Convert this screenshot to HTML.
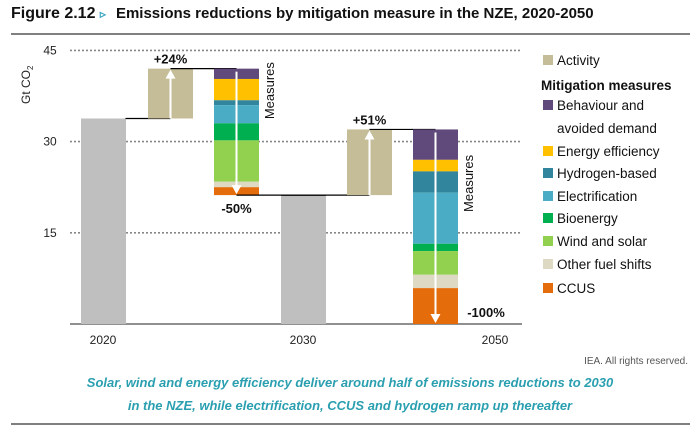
<!DOCTYPE html>
<html><head><meta charset="utf-8"><style>
body{margin:0;background:#fff;width:699px;height:433px;overflow:hidden;font-family:"Liberation Sans",sans-serif}
svg text{font-family:"Liberation Sans",sans-serif}
</style></head><body>
<svg id="chart" width="699" height="433" xmlns="http://www.w3.org/2000/svg">
<text x="11" y="18" font-size="16" font-weight="bold" fill="#111">Figure 2.12 <tspan fill="#3aa6c4" font-size="12">▹</tspan><tspan dx="10" font-size="15">Emissions reductions by mitigation measure in the NZE, 2020-2050</tspan></text>
<rect x="11" y="33" width="679" height="2" fill="#808080"/>
<text transform="translate(30,104) rotate(-90)" font-size="12" fill="#222">Gt CO<tspan font-size="8" dy="3">2</tspan></text>
<g id="grid"></g><g id="bars"></g><g id="legend"></g>
<text x="688" y="364" font-size="10" text-anchor="end" fill="#555">IEA. All rights reserved.</text>
<text x="350" y="387" font-size="13" font-weight="bold" font-style="italic" text-anchor="middle" fill="#2a9fb0">Solar, wind and energy efficiency deliver around half of emissions reductions to 2030</text>
<text x="350" y="410" font-size="13" font-weight="bold" font-style="italic" text-anchor="middle" fill="#2a9fb0">in the NZE, while electrification, CCUS and hydrogen ramp up thereafter</text>
<rect x="11" y="423" width="679" height="2" fill="#808080"/>
</svg>
<script>
const years=["2020","2030","2050"];
const totals=[33.8,21.2,0];
const activity=[8.2,10.8];
const measureNames=["Behaviour and avoided demand","Energy efficiency","Hydrogen-based","Electrification","Bioenergy","Wind and solar","Other fuel shifts","CCUS"];
const measures2030=[1.7,3.5,0.8,3.0,2.8,6.8,0.9,1.3];
const measures2050=[5.0,1.9,3.5,8.4,1.2,3.9,2.2,5.9];
const growthLabels=["+24%","+51%"];
const reductionLabels=["-50%","-100%"];
const yTicks=[15,30,45];
const colors=["#604a7b","#ffc000","#31859c","#4bacc6","#00b050","#92d050","#ddd9c3","#e46c0a"];
const NS="http://www.w3.org/2000/svg";
const y=v=>324-v*6.08;
const bw=45;
function mk(tag,attrs,parent,txt){const e=document.createElementNS(NS,tag);for(const k in attrs)e.setAttribute(k,attrs[k]);if(txt!==undefined)e.textContent=txt;parent.appendChild(e);return e;}
const grid=document.getElementById('grid'),bars=document.getElementById('bars'),leg=document.getElementById('legend');
yTicks.forEach(t=>{
 const l=mk('line',{x1:70,x2:522,y1:y(t),y2:y(t),stroke:'#888','stroke-width':1.6,'stroke-dasharray':'2,2'},grid);
 
 
 const tx=mk('text',{x:50,y:y(t)+4,'font-size':12,'text-anchor':'middle',fill:'#222'},grid,t);
 
 
});
const ax=mk('line',{x1:70,x2:522,y1:324,y2:324,stroke:'#222','stroke-width':1},grid);


const groupX=[81,281,413];
const actX=[148,347];
const measX=[214,413];
[0,1].forEach(i=>{
 const r=mk('rect',{x:groupX[i],y:y(totals[i]),width:bw,height:324-y(totals[i]),fill:'#bfbfbf'},bars);
 
 
});
years.forEach((yr,i)=>{
 const cx=[103,303,495][i];
 const t=mk('text',{x:cx,y:344,'font-size':12,'text-anchor':'middle',fill:'#222'},bars,yr);
 
 
});
const meas=[measures2030,measures2050];
[0,1].forEach(i=>{
 const base=totals[i],top=base+activity[i];
 const c1=mk('line',{x1:groupX[i]+bw/2+(i?-22:22),x2:actX[i]+bw/2,y1:y(base),y2:y(base),stroke:'#000','stroke-width':1.2},bars);
 
 
 const a=mk('rect',{x:actX[i],y:y(top),width:bw,height:y(base)-y(top),fill:'#c4bd97'},bars);
 
 
 const ar=mk('line',{x1:actX[i]+bw/2,x2:actX[i]+bw/2,y1:y(base),y2:y(top)+8,stroke:'#fff','stroke-width':2},bars);
 
 
 const ah=mk('polygon',{points:`${actX[i]+bw/2-5},${y(top)+10} ${actX[i]+bw/2+5},${y(top)+10} ${actX[i]+bw/2},${y(top)+1}`,fill:'#fff'},bars);
 
 
 const gl=mk('text',{x:actX[i]+bw/2,y:y(top)-5,'font-size':13,'font-weight':'bold','text-anchor':'middle',fill:'#111'},bars,growthLabels[i]);
 
 
 const c2=mk('line',{x1:actX[i]+bw/2,x2:measX[i]+bw/2,y1:y(top),y2:y(top),stroke:'#000','stroke-width':1.2},bars);
 
 
 let cur=top;
 meas[i].forEach((v,k)=>{
  const r=mk('rect',{x:measX[i],y:y(cur),width:bw,height:y(cur-v)-y(cur),fill:colors[k]},bars);
  
  
  cur-=v;
 });
 const mx=measX[i]+bw/2;
 const dl=mk('line',{x1:mx,x2:mx,y1:y(top)+3,y2:y(cur)-8,stroke:'#fff','stroke-width':2},bars);
 
 
 const dh=mk('polygon',{points:`${mx-5},${y(cur)-10} ${mx+5},${y(cur)-10} ${mx},${y(cur)-1}`,fill:'#fff'},bars);
 
 
 const mt=mk('text',{transform:`translate(${measX[i]+bw+15},${y(top)+(i?54:22)}) rotate(-90)`,'font-size':13,'text-anchor':'middle',fill:'#111'},bars,'Measures');
 
 
 if(i===0){
  const c3=mk('line',{x1:mx,x2:groupX[1]+bw/2+22,y1:y(cur),y2:y(cur),stroke:'#000','stroke-width':1.2},bars);
  
  
  const rl=mk('text',{x:mx,y:y(cur)+18,'font-size':13,'font-weight':'bold','text-anchor':'middle',fill:'#111'},bars,reductionLabels[0]);
  
  
 } else {
  const rl=mk('text',{x:486,y:317,'font-size':13,'font-weight':'bold','text-anchor':'middle',fill:'#111'},bars,reductionLabels[1]);
  
  
 }
});
const lrows=[["Activity","#c4bd97",60],["Mitigation measures",null,85],["Behaviour and",colors[0],105],["avoided demand",null,128],["Energy efficiency",colors[1],151],["Hydrogen-based",colors[2],173],["Electrification",colors[3],196],["Bioenergy",colors[4],218],["Wind and solar",colors[5],241],["Other fuel shifts",colors[6],264],["CCUS",colors[7],288]];
lrows.forEach(([t,c,yy],k)=>{
 const g=mk('g',{},leg);
 
 
 if(c)mk('rect',{x:543,y:yy-5,width:10,height:10,fill:c},g);
 const bold=t==="Mitigation measures";
 mk('text',{x:bold?541:557,y:yy+5,'font-size':13.5,'font-weight':bold?'bold':'normal',fill:'#111'},g,t);
});
</script>
</body></html>
